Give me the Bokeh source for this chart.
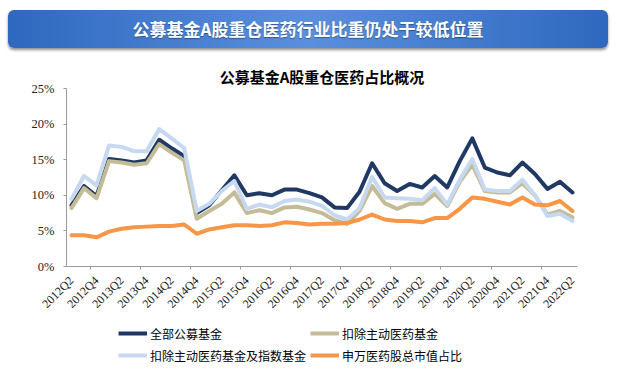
import math
from bokeh.plotting import figure
from bokeh.models import (Range1d, FixedTicker, PrintfTickFormatter, Legend, LegendItem, Div)
from bokeh.layouts import column
from bokeh.embed import file_html
from bokeh.resources import INLINE

quarters = [f"{y}Q{q}" for y in range(2012, 2023) for q in range(1, 5)]
quarters = quarters[1:42]  # 2012Q2 .. 2022Q2

all_funds = [8.6, 11.3, 9.9, 15.1, 14.9, 14.6, 14.9, 17.8, 16.6, 15.5,
             7.5, 8.6, 10.7, 12.8, 10.0, 10.3, 10.0, 10.8, 10.8, 10.3,
             9.7, 8.3, 8.2, 10.5, 14.5, 11.7, 10.6, 11.6, 11.1, 12.7,
             11.1, 14.8, 18.0, 13.9, 13.2, 12.8, 14.6, 13.0, 10.9, 11.9, 10.4]
ex_active = [8.2, 11.0, 9.6, 14.8, 14.6, 14.3, 14.5, 17.2, 16.0, 14.9,
             6.7, 7.8, 8.8, 10.4, 7.5, 7.9, 7.5, 8.3, 8.4, 8.0,
             7.5, 6.5, 6.0, 7.8, 11.3, 8.9, 8.1, 8.8, 8.8, 10.2,
             8.5, 11.9, 14.3, 10.6, 10.4, 10.4, 11.7, 10.0, 7.3, 7.8, 6.9]
ex_active_index = [9.5, 12.7, 11.4, 17.0, 16.8, 16.2, 16.2, 19.3, 18.0, 16.6,
                   7.8, 8.8, 10.6, 12.0, 8.1, 8.7, 8.3, 9.2, 9.4, 9.1,
                   8.5, 7.2, 6.6, 8.2, 12.6, 9.7, 9.6, 9.5, 9.3, 11.0,
                   8.7, 12.2, 15.1, 10.8, 10.6, 10.6, 12.2, 10.0, 7.1, 7.4, 6.4]
sw_share = [4.4, 4.4, 4.1, 4.9, 5.3, 5.5, 5.6, 5.7, 5.7, 5.9,
            4.6, 5.2, 5.5, 5.8, 5.8, 5.7, 5.8, 6.2, 6.1, 5.9,
            6.0, 6.0, 6.1, 6.6, 7.3, 6.6, 6.4, 6.4, 6.2, 6.8,
            6.8, 8.1, 9.7, 9.5, 9.1, 8.7, 9.7, 8.7, 8.6, 9.2, 7.8]

series_names = ["全部公募基金", "扣除主动医药基金", "扣除主动医药基金及指数基金", "申万医药股总市值占比"]
series_colors = ["#1f3864", "#c4bc96", "#c6d9f1", "#f79646"]
y_ticks = [0, 5, 10, 15, 20, 25]

main_title = "公募基金A股重仓医药行业比重仍处于较低位置"
chart_title = "公募基金A股重仓医药占比概况"

xs = list(range(len(quarters)))

banner = Div(
    text=(f'<div style="width:600px;height:38px;margin-top:10px;margin-left:8px;border-radius:6px;'
          f'background:linear-gradient(to right,#2e69bf 0%,#5a8fdd 50%,#2e69bf 100%);'
          f'box-shadow:0 2px 3px rgba(0,0,0,0.45);color:#ffffff;font-family:\'Noto Sans CJK SC\';'
          f'font-weight:bold;font-size:17px;line-height:38px;text-align:center;'
          f'text-shadow:0 1px 1px rgba(0,0,0,0.35);">{main_title}</div>'),
    width=627, height=54, margin=(0, 0, 0, 0))

p = figure(width=627, height=264, output_backend="svg", toolbar_location=None,
           x_range=Range1d(-0.4, 40.4), y_range=Range1d(0, 25),
           min_border_left=66, min_border_right=50, min_border_top=34, min_border_bottom=49,
           title=chart_title)
p.title.align = "center"
p.title.text_font = "Noto Sans CJK SC"
p.title.text_font_size = "15px"
p.title.text_font_style = "bold"
p.title.text_color = "#000000"
p.title.offset = -4
p.title.standoff = 3
p.outline_line_color = None
p.grid.visible = False
p.background_fill_color = "white"
p.border_fill_color = "white"

lines = []
for data, color in zip([all_funds, ex_active, ex_active_index, sw_share], series_colors):
    r = p.line(xs, data, line_color=color, line_width=4, line_join="round", line_cap="round")
    lines.append(r)

# axes
p.yaxis.ticker = FixedTicker(ticks=y_ticks)
p.yaxis.formatter = PrintfTickFormatter(format="%d%%")
p.yaxis.major_label_text_font = "Liberation Serif"
p.yaxis.major_label_text_font_size = "12.5px"
p.yaxis.major_label_text_color = "#222222"
p.yaxis.axis_line_color = "#9a9a9a"
p.yaxis.major_tick_line_color = "#9a9a9a"
p.yaxis.major_tick_out = 3
p.yaxis.major_tick_in = 0
p.yaxis.minor_tick_line_color = None
p.yaxis.major_label_standoff = 9

label_ticks = xs[::2]
p.xaxis.ticker = FixedTicker(ticks=label_ticks, minor_ticks=[x + 1.5 for x in xs[::4][:-1]])
p.xaxis.major_label_overrides = {i: quarters[i] for i in label_ticks}
p.xaxis.major_label_orientation = math.pi / 4
p.xaxis.major_label_text_font = "Liberation Serif"
p.xaxis.major_label_text_font_size = "12px"
p.xaxis.major_label_text_color = "#222222"
p.xaxis.axis_line_color = "#9a9a9a"
p.xaxis.major_tick_line_color = None
p.xaxis.minor_tick_line_color = "#9a9a9a"
p.xaxis.minor_tick_out = 3
p.xaxis.minor_tick_in = 0
p.xaxis.major_label_standoff = 6

# legend panel (separate small figure holding legend swatches)
lg = figure(width=627, height=50, output_backend="svg", toolbar_location=None,
            x_range=Range1d(0, 1), y_range=Range1d(0, 1), min_border=0,
            x_axis_type=None, y_axis_type=None)
lg.grid.visible = False
lg.outline_line_color = None
swatches = [lg.line(x=[float("nan")], y=[float("nan")], line_color=c, line_width=4)
            for c in series_colors]

common = dict(orientation="horizontal", padding=0, margin=0, border_line_color=None,
              background_fill_alpha=0, glyph_width=29, glyph_height=22, label_height=22,
              label_standoff=3, label_text_font="Noto Sans CJK SC",
              label_text_font_size="12px", label_text_color="#000000")
legend1 = Legend(items=[LegendItem(label=series_names[i], renderers=[swatches[i]]) for i in (0, 1)],
                 location=(52, 24), spacing=88, **common)
legend2 = Legend(items=[LegendItem(label=series_names[i], renderers=[swatches[i]]) for i in (2, 3)],
                 location=(52, 2), spacing=4, **common)
lg.add_layout(legend1, "center")
lg.add_layout(legend2, "center")

layout = column(banner, p, lg, spacing=0)
open("out.html", "w").write(file_html(layout, INLINE))
